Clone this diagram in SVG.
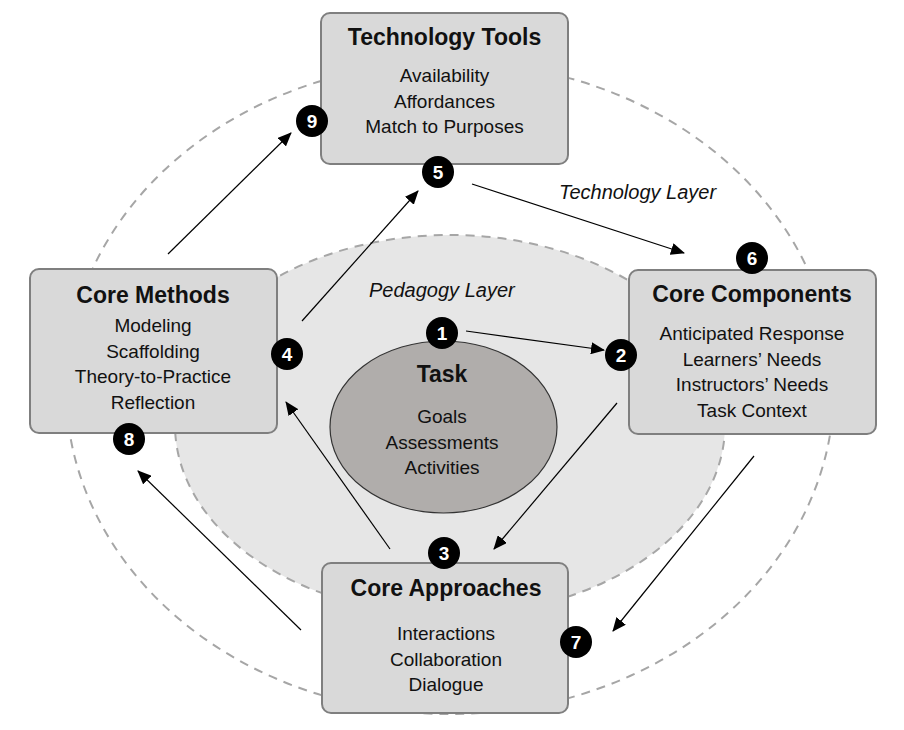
<svg xmlns="http://www.w3.org/2000/svg" width="904" height="730" viewBox="0 0 904 730">
<style>
.box{fill:#d9d9d9;stroke:#7f7f7f;stroke-width:2}
.title{font-family:"Liberation Sans",Arial,sans-serif;font-weight:bold;font-size:23px;fill:#111;text-anchor:middle}
.item{font-family:"Liberation Sans",Arial,sans-serif;font-size:19px;fill:#111;text-anchor:middle}
.layer{font-family:"Liberation Sans",Arial,sans-serif;font-style:italic;font-size:20px;fill:#111}
.num circle{fill:#000}
.num text{font-family:"Liberation Sans",Arial,sans-serif;font-weight:bold;font-size:19px;fill:#fff;text-anchor:middle}
.arrow{stroke:#000;stroke-width:1.2;fill:none;marker-end:url(#ah)}
</style>
<defs>
<marker id="ah" markerUnits="userSpaceOnUse" markerWidth="14" markerHeight="12" viewBox="0 0 14 12" refX="13" refY="6" orient="auto">
<path d="M0,0 L14,6 L0,12 Z" fill="#000"/>
</marker>
</defs>
<rect width="904" height="730" fill="#fff"/>
<g id="layers">
<ellipse id="technology-layer" cx="450" cy="388" rx="384" ry="326" fill="none" stroke="#a6a6a6" stroke-width="2" stroke-dasharray="9 7"/>
<ellipse id="pedagogy-layer" cx="450" cy="425" rx="275" ry="190" fill="#e6e6e6" stroke="#a6a6a6" stroke-width="2" stroke-dasharray="9 7"/>
<text class="layer" x="559" y="199">Technology Layer</text>
<text class="layer" x="369" y="297">Pedagogy Layer</text>
</g>
<g id="task">
<ellipse cx="443.5" cy="427" rx="113.5" ry="86" fill="#b0adab" stroke="#333" stroke-width="1.2"/>
<text class="title" x="442" y="382">Task</text>
<text class="item" x="442" y="423">Goals</text>
<text class="item" x="442" y="449">Assessments</text>
<text class="item" x="442" y="474">Activities</text>
</g>
<g id="technology-tools">
<rect class="box" x="321" y="13" width="247" height="151" rx="9"/>
<text class="title" x="444.5" y="45">Technology Tools</text>
<text class="item" x="444.5" y="82">Availability</text>
<text class="item" x="444.5" y="108">Affordances</text>
<text class="item" x="444.5" y="133">Match to Purposes</text>
</g>
<g id="core-methods">
<rect class="box" x="30" y="269" width="247" height="164" rx="9"/>
<text class="title" x="153" y="303">Core Methods</text>
<text class="item" x="153" y="332">Modeling</text>
<text class="item" x="153" y="358">Scaffolding</text>
<text class="item" x="153" y="383">Theory-to-Practice</text>
<text class="item" x="153" y="409">Reflection</text>
</g>
<g id="core-components">
<rect class="box" x="629" y="270" width="247" height="164" rx="9"/>
<text class="title" x="752" y="302">Core Components</text>
<text class="item" x="752" y="340">Anticipated Response</text>
<text class="item" x="752" y="366">Learners’ Needs</text>
<text class="item" x="752" y="391">Instructors’ Needs</text>
<text class="item" x="752" y="417">Task Context</text>
</g>
<g id="core-approaches">
<rect class="box" x="322" y="563" width="246" height="150" rx="9"/>
<text class="title" x="446" y="596">Core Approaches</text>
<text class="item" x="446" y="640">Interactions</text>
<text class="item" x="446" y="666">Collaboration</text>
<text class="item" x="446" y="691">Dialogue</text>
</g>
<g id="connectors">
<line class="arrow" x1="466" y1="331" x2="604" y2="350"/>
<line class="arrow" x1="617" y1="403" x2="494" y2="549"/>
<line class="arrow" x1="390" y1="549" x2="286" y2="402"/>
<line class="arrow" x1="302" y1="321" x2="418" y2="191"/>
<line class="arrow" x1="472" y1="184" x2="684" y2="253"/>
<line class="arrow" x1="754" y1="456" x2="613" y2="631"/>
<line class="arrow" x1="301" y1="630" x2="138" y2="471"/>
<line class="arrow" x1="168" y1="254" x2="291" y2="133"/>
</g>
<g id="markers" class="num">
<g id="n1"><circle cx="442" cy="333" r="16"/><text x="442" y="340">1</text></g>
<g id="n2"><circle cx="621" cy="355" r="16"/><text x="621" y="362">2</text></g>
<g id="n3"><circle cx="444" cy="553" r="16"/><text x="444" y="560">3</text></g>
<g id="n4"><circle cx="287" cy="354" r="16"/><text x="287" y="361">4</text></g>
<g id="n5"><circle cx="438" cy="172" r="16"/><text x="438" y="179">5</text></g>
<g id="n6"><circle cx="752" cy="258" r="16"/><text x="752" y="265">6</text></g>
<g id="n7"><circle cx="576" cy="642" r="16"/><text x="576" y="649">7</text></g>
<g id="n8"><circle cx="129" cy="439" r="16"/><text x="129" y="446">8</text></g>
<g id="n9"><circle cx="312" cy="121" r="16"/><text x="312" y="128">9</text></g>
</g>
</svg>
